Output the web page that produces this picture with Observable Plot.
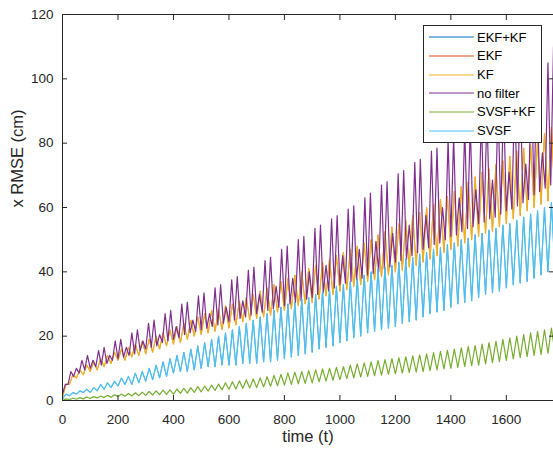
<!DOCTYPE html>
<html>
<head>
<meta charset="utf-8">
<script src="https://cdn.jsdelivr.net/npm/d3@7"></script>
<script src="https://cdn.jsdelivr.net/npm/@observablehq/plot@0.6"></script>
<style>
  body { margin: 0; background: #fff; }
  #wrap { position: relative; width: 553px; height: 450px; font-family: "Liberation Sans", Arial, sans-serif; }
  #legend { position: absolute; left: 423px; top: 25px; width: 117px; height: 114px; border: 1px solid #262626; background: #fff; padding-top: 2px; box-sizing: content-box; }
  .row { display: flex; align-items: center; height: 18.66px; font-size: 13px; color: #000; }
  .row svg { margin-left: 5px; margin-right: 3px; }
</style>
</head>
<body>
<div id="wrap"><div id="chart"></div><div id="legend"></div></div>
<script>
// series names, drawing order and colours (MATLAB default order)
const seriesNames = ["EKF+KF", "EKF", "KF", "no filter", "SVSF+KF", "SVSF"];
const seriesColors = ["#0072BD", "#D95319", "#EDB120", "#7E2F8E", "#77AC30", "#4DBEEE"];
const xTicks = [0, 200, 400, 600, 800, 1000, 1200, 1400, 1600];
const yTicks = [0, 20, 40, 60, 80, 100, 120];
const xLabel = "time (t)";
const yLabel = "x RMSE (cm)";

// sample spacing (time units) of the arrays below
const stepNoFilter = 10;
const stepOthers = 12.5;

// no filter (x RMSE, cm), one value every 10 t
const noFilter = [
  2, 5, 5, 9, 7.5, 10, 8.5, 12.5, 9.5, 14,
  10, 12.5, 10.5, 15.5, 11, 16.5, 11.5, 14, 12.5, 18.5,
  13, 19, 13.5, 16.5, 14, 21, 14.5, 22, 15.5, 18.5,
  16, 24, 16.5, 25, 17, 20.5, 18, 27, 18.5, 28,
  19, 23, 19.5, 30, 20.5, 30.5, 21, 25, 21.5, 32.5,
  22, 33.5, 22.5, 27, 23, 35, 23.5, 36, 24, 29,
  24.5, 37.5, 25, 38.5, 25.5, 31, 26, 40.5, 26.5, 41.5,
  27, 33, 27.5, 43.5, 28, 44.5, 28.5, 35.5, 29, 47,
  29.5, 48, 30, 38, 30.5, 50, 31, 51, 31.5, 40,
  32, 53.5, 33, 54.5, 33.5, 42, 34, 56.5, 35, 57.5,
  36, 45, 36.5, 59.5, 37, 60.5, 37.5, 47, 38, 63,
  39, 64.5, 39.5, 49.5, 40, 67, 41, 68, 41.5, 52,
  43, 70.5, 43.5, 71.5, 44, 54.5, 45, 74, 46, 75,
  47, 57.5, 47.5, 77.5, 48.5, 78.5, 49, 60, 50, 81,
  51, 82, 51.5, 63, 52.5, 84.5, 53.5, 85.5, 54, 65.5,
  55, 88.5, 55.5, 89.5, 56.5, 68.5, 57, 92, 58, 93,
  59, 71, 59.5, 95.5, 60.5, 97, 61.5, 73.5, 62.5, 100,
  64, 101.5, 65, 77, 66, 105, 67, 110
];

// KF, one value every 12.5 t
const kf = [
  1, 5, 5, 8, 7, 9.5, 8, 11,
  9, 12, 9.5, 13, 10.5, 14, 11.5, 15,
  12.5, 16, 12.5, 16.5, 13.5, 17.5, 14, 18.5,
  14.5, 19, 15, 20, 16, 21, 17, 22,
  17.5, 23, 18, 24, 19, 25, 20, 26,
  20.5, 27, 21, 28, 21.5, 28.5, 22, 29.5,
  22.5, 30, 23.5, 31, 24.5, 32, 25, 33,
  25.5, 34, 26, 35, 26.5, 36, 27.5, 37,
  28, 38, 28.5, 39, 29.5, 40, 30, 41,
  30.5, 42, 31.5, 43, 32.5, 44, 33, 45,
  34, 46, 34.5, 47, 35.5, 48, 36, 49,
  37, 50, 37.5, 51.5, 38.5, 52.5, 39, 54,
  40, 55, 40.5, 56, 41.5, 57.5, 42, 58.5,
  43, 60, 44, 61, 45, 62.5, 46, 63.5,
  47, 65, 48, 66.5, 49, 68, 50, 69.5,
  51, 71, 52, 72, 52.5, 73.5, 54, 74.5,
  55, 76, 56.5, 77.5, 57.5, 78.5, 59, 79.5,
  60, 81, 61, 83, 62, 85, 63
];

// SVSF, one value every 12.5 t
const svsf = [
  0.5, 2, 1.5, 2.5, 2, 3, 2.5, 3.5,
  2.5, 4, 3, 5, 3.5, 5.5, 4, 6,
  4.5, 7, 5, 7.5, 5, 8.5, 5.5, 9,
  6, 10, 6.5, 11, 7, 12, 7.5, 13,
  8.5, 14, 9, 15, 9, 16, 9.5, 17,
  10, 18, 10.5, 19, 10.5, 20, 11, 21,
  11, 22, 11, 23, 11.5, 24, 11.5, 25,
  11.5, 26, 12, 27, 12, 28, 12.5, 29,
  13, 30, 13.5, 30.5, 14, 31.5, 14.5, 32,
  15, 33, 16, 34, 16.5, 34.5, 17, 35.5,
  18, 36, 18.5, 37, 19.5, 38, 20, 39,
  21, 40, 21.5, 41, 22, 41.5, 22.5, 42,
  23, 43, 24, 44, 24.5, 44.5, 25, 45.5,
  26, 46, 27, 47, 27.5, 47.5, 28, 48.5,
  29, 49, 30, 50, 30.5, 50.5, 31, 51.5,
  32, 52, 33, 53, 33.5, 53.5, 34, 54.5,
  35, 55, 36, 56, 36.5, 57, 37, 58,
  38, 59, 39, 60, 40, 61.5, 41
];

// SVSF+KF, one value every 12.5 t
const svsfKf = [
  0, 0.5, 0.3, 0.7, 0.4, 0.9, 0.5, 1.1,
  0.6, 1.2, 0.8, 1.4, 0.9, 1.6, 1, 1.8,
  1.2, 2, 1.3, 2.2, 1.4, 2.4, 1.5, 2.6,
  1.6, 2.8, 1.7, 3, 1.8, 3.2, 1.9, 3.3,
  2, 3.5, 2.2, 3.8, 2.3, 4, 2.5, 4.3,
  2.7, 4.5, 2.9, 4.8, 3.1, 5.1, 3.3, 5.5,
  3.5, 5.8, 3.6, 6.1, 3.8, 6.4, 3.9, 6.7,
  4, 7, 4.2, 7.4, 4.4, 7.8, 4.6, 8.1,
  4.8, 8.5, 5, 8.8, 5.2, 9, 5.3, 9.3,
  5.5, 9.5, 5.8, 9.8, 6, 10, 6.3, 10.3,
  6.5, 10.5, 6.8, 11, 7, 11.4, 7.3, 11.7,
  7.5, 12, 7.7, 12.4, 7.9, 12.7, 8.1, 13,
  8.3, 13.3, 8.5, 13.6, 8.7, 13.9, 8.8, 14.2,
  9, 14.5, 9.3, 14.9, 9.5, 15.3, 9.8, 15.6,
  10, 16, 10.3, 16.4, 10.5, 16.8, 10.8, 17.1,
  11, 17.5, 11.4, 18, 11.8, 18.5, 12.1, 19,
  12.5, 19.5, 12.9, 20, 13.3, 20.5, 13.6, 21,
  14, 21.5, 14.3, 22, 14.7, 22.5, 15
];

// EKF+KF and EKF lie under SVSF and KF respectively (hidden in the figure)
const ekfKf = svsf;
const ekf = kf;

const seriesValues = [ekfKf, ekf, kf, noFilter, svsfKf, svsf];
const seriesSteps = [stepOthers, stepOthers, stepOthers, stepNoFilter, stepOthers, stepOthers];
const seriesWidths = [0.6, 0.6, 1.2, 1.2, 1.2, 1.2];

const tableOf = (vals, step) => vals.map((v, i) => ({t: i * step, v}));

const axisColor = "#262626";
const noText = () => "";
const lineMarks = seriesValues.map((vals, k) =>
  Plot.line(tableOf(vals, seriesSteps[k]), {x: "t", y: "v", stroke: seriesColors[k], strokeWidth: seriesWidths[k], clip: true})
);

const chart = Plot.plot({
  width: 553,
  height: 450,
  marginLeft: 62,
  marginRight: 0,
  marginTop: 14,
  marginBottom: 50,
  style: {fontFamily: "'Liberation Sans', Arial, sans-serif", fontSize: "13.5px", color: axisColor, background: "#fff"},
  x: {domain: [0, 1770]},
  y: {domain: [0, 120]},
  marks: [
    ...lineMarks,
    Plot.ruleY([0, 120], {stroke: axisColor, strokeWidth: 1}),
    Plot.ruleX([0], {stroke: axisColor, strokeWidth: 1}),
    Plot.axisX(xTicks, {anchor: "bottom", tickSize: -5, tickPadding: 19, stroke: axisColor, fill: axisColor,
      label: null, tickFormat: d => String(d)}),
    Plot.axisX(xTicks, {anchor: "top", tickSize: -5, tickFormat: noText, label: null, stroke: axisColor}),
    Plot.axisY(yTicks, {anchor: "left", tickSize: -5, tickPadding: 14, stroke: axisColor, fill: axisColor,
      label: null, tickFormat: d => String(d)}),
    Plot.axisY(yTicks, {anchor: "right", tickSize: -5, tickFormat: noText, label: null, stroke: axisColor}),
    Plot.text([xLabel], {frameAnchor: "bottom", dy: 41, text: d => d, fontSize: 16.5, fill: axisColor}),
    Plot.text([yLabel], {frameAnchor: "left", dx: -45, rotate: -90, text: d => d, fontSize: 16.5, fill: axisColor})
  ]
});
document.getElementById("chart").appendChild(chart);

// legend (inside the axes, upper right)
const legend = document.getElementById("legend");
seriesNames.forEach((name, k) => {
  const row = document.createElement("div");
  row.className = "row";
  row.innerHTML = `<svg width="45" height="4"><line x1="0" x2="45" y1="2" y2="2" stroke="${seriesColors[k]}" stroke-width="1"/></svg><span>${name}</span>`;
  legend.appendChild(row);
});
</script>
</body>
</html>
